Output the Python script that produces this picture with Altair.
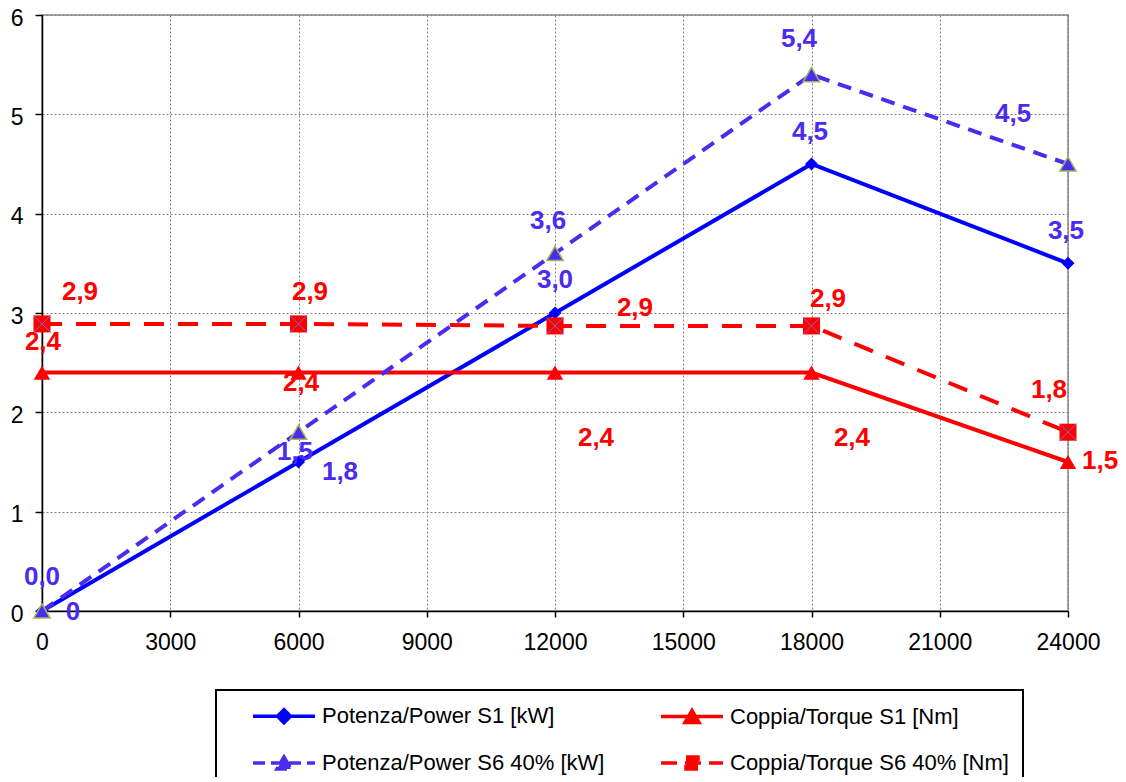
import altair as alt
import pandas as pd

# ---- data ----
speed = [0, 6000, 12000, 18000, 24000]
power_s1 = [0.0, 1.5, 3.0, 4.5, 3.5]
power_s6 = [0.0, 1.8, 3.6, 5.4, 4.5]
torque_s1 = [2.4, 2.4, 2.4, 2.4, 1.5]
torque_s6 = [2.89, 2.89, 2.87, 2.87, 1.8]

# data labels (text and where they sit, in data units)
power_s1_text = ["0", "1,5", "3,0", "4,5", "3,5"]
power_s1_lx = [725, 5918, 12000, 17965, 23953]
power_s1_ly = [-0.01, 1.60, 3.33, 4.82, 3.83]
power_s6_text = ["0,0", "1,8", "3,6", "5,4", "4,5"]
power_s6_lx = [0, 6971, 11837, 17708, 22714]
power_s6_ly = [0.34, 1.40, 3.93, 5.76, 5.00]
torque_s1_text = ["2,4", "2,4", "2,4", "2,4", "1,5"]
torque_s1_lx = [23, 6059, 12959, 18947, 24749]
torque_s1_ly = [2.71, 2.30, 1.74, 1.74, 1.51]
torque_s6_text = ["2,9", "2,9", "2,9", "2,9", "1,8"]
torque_s6_lx = [889, 6269, 13871, 18386, 23556]
torque_s6_ly = [3.21, 3.21, 3.05, 3.14, 2.22]

# legend order (legend fills column by column)
series_names = [
    "Potenza/Power S1 [kW]",
    "Potenza/Power S6 40% [kW]",
    "Coppia/Torque S1 [Nm]",
    "Coppia/Torque S6 40% [Nm]",
]
x_ticks = [0, 3000, 6000, 9000, 12000, 15000, 18000, 21000, 24000]
y_ticks = [0, 1, 2, 3, 4, 5, 6]

BLUE = "#0000FF"
PURPLE = "#4A2BEF"
RED = "#FF0000"
GREEN = "#9BBB59"
FONT = "Liberation Sans"

x_axis = alt.Axis(values=x_ticks, format="d", title=None, labelFont=FONT,
                  labelFontSize=23, labelColor="black", labelFlush=False,
                  labelPadding=14, tickColor="black", tickSize=6, tickWidth=1.5,
                  domainColor="black", domainWidth=1.5, grid=True,
                  gridColor="#808080", gridDash=[2, 2], gridWidth=1)
y_axis = alt.Axis(values=y_ticks, title=None, labelFont=FONT,
                  labelFontSize=23, labelColor="black", labelFlush=False,
                  labelPadding=12, labelOffset=3, tickColor="black", tickSize=7,
                  tickWidth=1.5, domainColor="black", domainWidth=1.5, grid=True,
                  gridColor="#808080", gridDash=[2, 2], gridWidth=1)
x_scale = alt.Scale(domain=[0, 24000], nice=False, zero=False)
y_scale = alt.Scale(domain=[0, 6], nice=False, zero=False)


def X(field):
    return alt.X(f"{field}:Q", scale=x_scale, axis=x_axis)


def Y(field):
    return alt.Y(f"{field}:Q", scale=y_scale, axis=y_axis)


def series_df(vals):
    return pd.DataFrame({"speed": speed, "value": vals})


def label_df(texts, lx, ly):
    return pd.DataFrame({"label": texts, "lx": lx, "ly": ly})


layers = []

# Power S1
d = series_df(power_s1)
layers.append(alt.Chart(d).mark_line(color=BLUE, strokeWidth=4).encode(x=X("speed"), y=Y("value")))
layers.append(alt.Chart(d).mark_point(shape="diamond", filled=True, color=BLUE, size=170, opacity=1)
              .encode(x=X("speed"), y=Y("value")))
# Torque S1
d = series_df(torque_s1)
layers.append(alt.Chart(d).mark_line(color=RED, strokeWidth=4).encode(x=X("speed"), y=Y("value")))
layers.append(alt.Chart(d).mark_point(shape="triangle-up", filled=True, color=RED, size=270, opacity=1)
              .encode(x=X("speed"), y=Y("value")))
# Power S6
d = series_df(power_s6)
layers.append(alt.Chart(d).mark_line(color=PURPLE, strokeWidth=4, strokeDash=[14, 9])
              .encode(x=X("speed"), y=Y("value")))
layers.append(alt.Chart(d).mark_point(shape="triangle-up", filled=True, fill=PURPLE, stroke=GREEN,
                                      strokeWidth=1.5, size=270, opacity=1)
              .encode(x=X("speed"), y=Y("value")))
# Torque S6
d = series_df(torque_s6)
layers.append(alt.Chart(d).mark_line(color=RED, strokeWidth=4, strokeDash=[20, 14])
              .encode(x=X("speed"), y=Y("value")))
layers.append(alt.Chart(d).mark_point(shape="square", filled=True, color=RED, size=290, opacity=1)
              .encode(x=X("speed"), y=Y("value")))
layers.append(alt.Chart(d).mark_point(shape="M-1,-1L1,1M1,-1L-1,1", filled=False, stroke="#7B68C8",
                                      strokeWidth=1, size=290, opacity=1)
              .encode(x=X("speed"), y=Y("value")))

# data labels
for texts, lx, ly, col in [
    (power_s1_text, power_s1_lx, power_s1_ly, PURPLE),
    (power_s6_text, power_s6_lx, power_s6_ly, PURPLE),
    (torque_s1_text, torque_s1_lx, torque_s1_ly, RED),
    (torque_s6_text, torque_s6_lx, torque_s6_ly, RED),
]:
    layers.append(
        alt.Chart(label_df(texts, lx, ly))
        .mark_text(font=FONT, fontWeight="bold", fontSize=26, align="center",
                   baseline="middle", color=col)
        .encode(x=X("lx"), y=Y("ly"), text="label:N")
    )

# legend (carried by an empty layer, symbols are line + marker paths)
legend_paths = [
    "M1.1,0H7.3M4.2,-0.65L4.85,0L4.2,0.65L3.55,0Z",
    "M1.1,0H7.3M4.2,-0.6L4.9,0.6L3.5,0.6Z",
    "M1.1,0H7.3M4.2,-0.6L4.9,0.6L3.5,0.6Z",
    "M1.1,0H7.3M3.6,-0.6H4.8V0.6H3.6Z",
]
legend_fill = [BLUE, PURPLE, RED, RED]
legend_dash = [[1, 0], [12, 6], [1, 0], [16, 8]]
legend = alt.Legend(title=None, orient="none", legendX=174, legendY=675, columns=2,
                    padding=14, strokeColor="black", fillColor="white",
                    symbolSize=400, symbolStrokeWidth=3.5, symbolOpacity=1,
                    labelFont=FONT, labelFontSize=22, labelColor="black",
                    labelOffset=68, labelLimit=500, columnPadding=33, rowPadding=20)
leg_df = pd.DataFrame({"series": series_names, "speed": speed[:4], "value": power_s1[:4]})
layers.append(
    alt.Chart(leg_df).transform_filter("false")
    .mark_point(filled=True, opacity=1, strokeWidth=3.5)
    .encode(
        x=X("speed"), y=Y("value"),
        fill=alt.Fill("series:N", scale=alt.Scale(domain=series_names, range=legend_fill), legend=legend),
        stroke=alt.Stroke("series:N", scale=alt.Scale(domain=series_names, range=legend_fill), legend=legend),
        shape=alt.Shape("series:N", scale=alt.Scale(domain=series_names, range=legend_paths), legend=legend),
        strokeDash=alt.StrokeDash("series:N", scale=alt.Scale(domain=series_names, range=legend_dash), legend=legend),
    )
)

chart = (
    alt.layer(*layers)
    .properties(width=1026, height=596, autosize=alt.AutoSizeParams(type="none"),
                padding={"left": 34, "top": 7, "right": 50, "bottom": 166},
                background="white")
    .configure_view(stroke="#A6A6A6", strokeWidth=2)
    .configure_legend(strokeWidth=2)
)

chart.save("out.html", embed_options={"renderer": "svg", "actions": False})
